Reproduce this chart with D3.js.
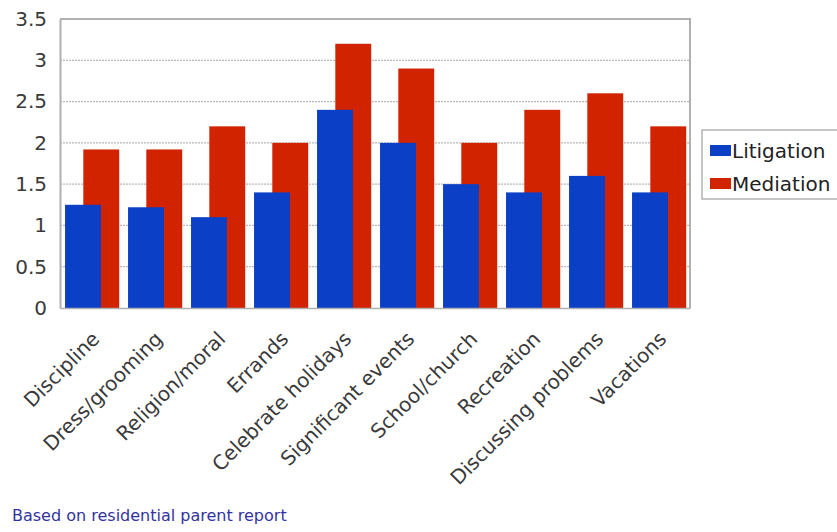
<!DOCTYPE html>
<html>
<head>
<meta charset="utf-8">
<script src="https://cdn.jsdelivr.net/npm/d3@7"></script>
<style>
  html, body { margin: 0; padding: 0; background: #fff; }
  svg { display: block; font-family: "DejaVu Sans", Verdana, sans-serif; }
</style>
</head>
<body>
<svg id="chart" width="837" height="532"></svg>
<script>
// Categories and the two series (mean involvement scores)
const categories = ["Discipline", "Dress/grooming", "Religion/moral", "Errands", "Celebrate holidays",
  "Significant events", "School/church", "Recreation", "Discussing problems", "Vacations"];
const litigation = [1.25, 1.22, 1.1, 1.4, 2.4, 2.0, 1.5, 1.4, 1.6, 1.4];
const mediation  = [1.92, 1.92, 2.2, 2.0, 3.2, 2.9, 2.0, 2.4, 2.6, 2.2];
const seriesNames = ["Litigation", "Mediation"];
const yTicks = [0, 0.5, 1, 1.5, 2, 2.5, 3, 3.5];
const footnote = "Based on residential parent report";

const colors = { Litigation: "#0b3fc6", Mediation: "#d12300" };

const svg = d3.select("#chart");
const plot = { left: 60, right: 690, top: 19, bottom: 308 };

const x = d3.scaleBand().domain(categories).range([plot.left, plot.right]).paddingInner(0).paddingOuter(0);
const y = d3.scaleLinear().domain([0, 3.5]).range([plot.bottom, plot.top]);

// gridlines
svg.append("g").selectAll("line").data(yTicks.filter(t => t > 0 && t < 3.5)).join("line")
  .attr("x1", plot.left).attr("x2", plot.right)
  .attr("y1", d => y(d)).attr("y2", d => y(d))
  .attr("stroke", "#b8b8b8").attr("stroke-width", 1.2).attr("stroke-dasharray", "2,1");

// frame: top and right edges
svg.append("path")
  .attr("d", `M${plot.left},${plot.top}H${plot.right}V${plot.bottom}`)
  .attr("fill", "none").attr("stroke", "#b0b0b0").attr("stroke-width", 2);

// overlapping bar pairs: mediation behind, litigation in front
const bw = x.bandwidth();
const barW = bw * 0.57;
const shift = bw * 0.29;
const groupStart = bw * 0.08;

const groups = svg.append("g").selectAll("g").data(categories).join("g")
  .attr("transform", d => `translate(${x(d)},0)`);

groups.append("rect")
  .attr("x", groupStart + shift).attr("width", barW)
  .attr("y", (d, i) => y(mediation[i]))
  .attr("height", (d, i) => y(0) - y(mediation[i]))
  .attr("fill", colors.Mediation);

groups.append("rect")
  .attr("x", groupStart).attr("width", barW)
  .attr("y", (d, i) => y(litigation[i]))
  .attr("height", (d, i) => y(0) - y(litigation[i]))
  .attr("fill", colors.Litigation);

// y axis
const yAxis = d3.axisLeft(y).tickValues(yTicks).tickFormat(d3.format("")).tickSize(0).tickPadding(13);
const yg = svg.append("g").attr("transform", `translate(${plot.left},0)`).call(yAxis);
yg.select(".domain").attr("stroke", "#b0b0b0").attr("stroke-width", 2);
yg.selectAll("text").attr("font-size", 20).attr("fill", "#3a3a3a").attr("font-family", "DejaVu Sans");

// x axis with rotated labels
const xAxis = d3.axisBottom(x).tickSize(0).tickPadding(0);
const xg = svg.append("g").attr("transform", `translate(0,${plot.bottom})`).call(xAxis);
xg.select(".domain").attr("stroke", "#b0b0b0").attr("stroke-width", 1.5);
xg.selectAll("text")
  .attr("font-size", 20).attr("fill", "#3a3a3a").attr("font-family", "DejaVu Sans")
  .attr("text-anchor", "end")
  .attr("dy", "0.72em")
  .attr("transform", "translate(-1,22) rotate(-45)");

// legend
const lg = svg.append("g").attr("transform", "translate(702,130)");
lg.append("rect").attr("width", 150).attr("height", 69)
  .attr("fill", "#fff").attr("stroke", "#a0a0a0").attr("stroke-width", 1.2);
seriesNames.forEach((name, i) => {
  const row = lg.append("g").attr("transform", `translate(8,${20 + i * 33})`);
  row.append("rect").attr("x", 0).attr("y", -5).attr("width", 21).attr("height", 11)
    .attr("fill", colors[name]);
  row.append("text").attr("x", 22).attr("y", 1).attr("dy", "0.35em")
    .attr("font-size", 20).attr("fill", "#222").text(name);
});

// footnote
svg.append("text").attr("x", 12).attr("y", 521)
  .attr("font-size", 16).attr("fill", "#3333a0").text(footnote);
</script>
</body>
</html>
